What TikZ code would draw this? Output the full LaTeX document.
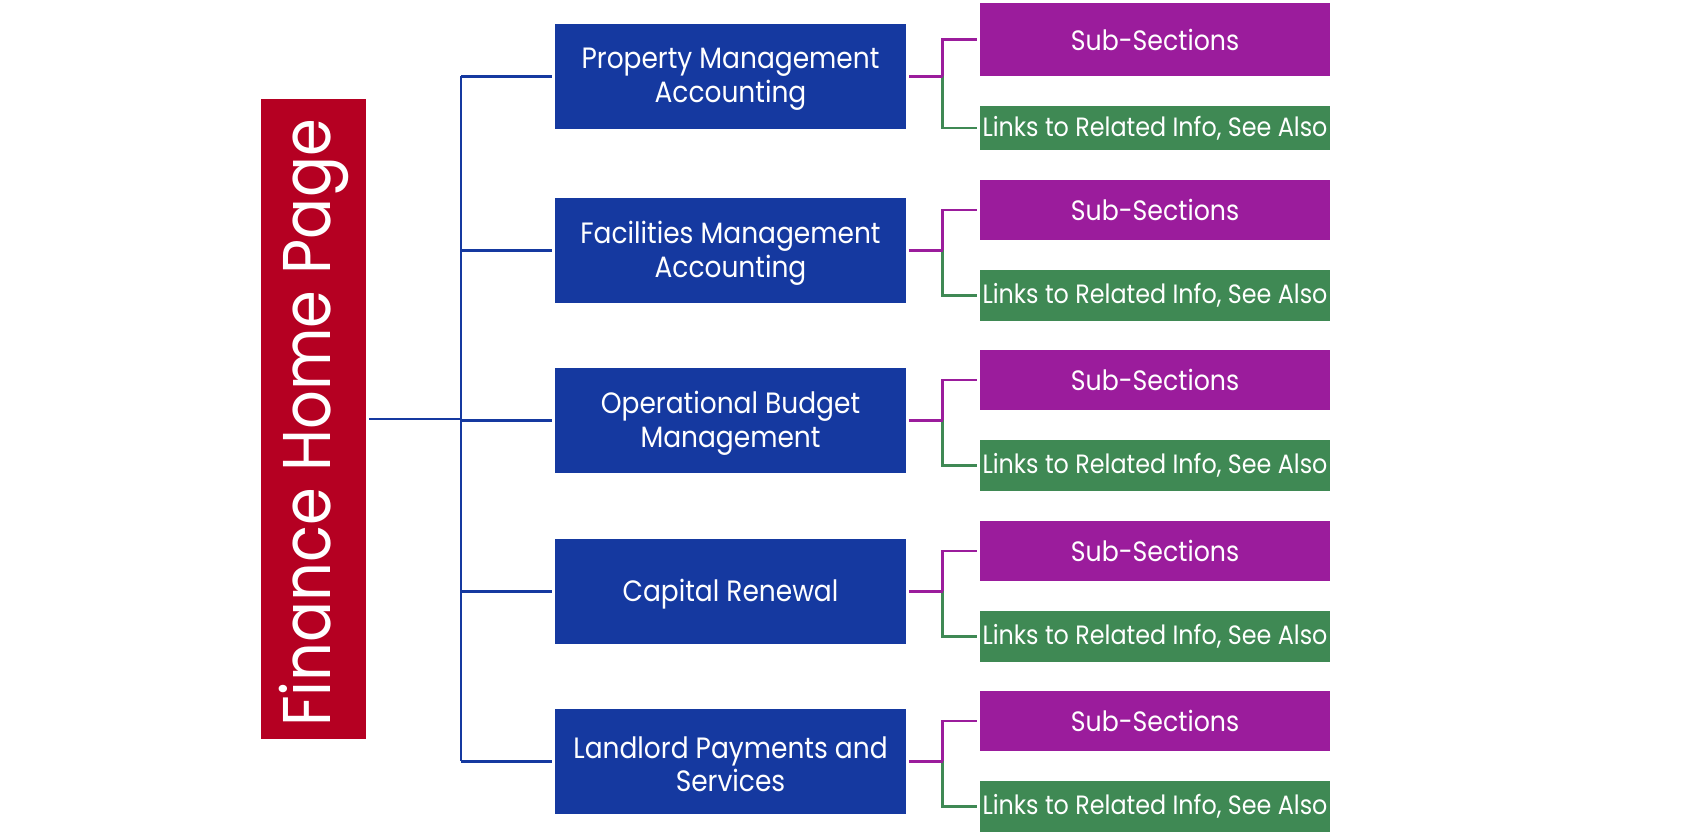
\documentclass[tikz,border=0pt]{standalone}
\usepackage{fontspec}
\setmainfont{Poppins}[FakeStretch=0.9]
\definecolor{rootred}{RGB}{181,0,34}
\definecolor{secblue}{RGB}{21,57,160}
\definecolor{subpurple}{RGB}{155,28,156}
\definecolor{linkgreen}{RGB}{63,137,84}
\tikzset{
  rootbox/.style={fill=rootred, text=white, minimum width=105pt, minimum height=640pt, inner sep=0pt, font=\fontsize{67.5}{70}\selectfont},
  secbox/.style={fill=secblue, minimum width=351pt, minimum height=104.5pt, inner sep=0pt},
  sectext/.style={text=white, align=center, inner sep=0pt, yshift=-3pt, font=\fontsize{29.4}{33.4}\selectfont},
  subbox/.style={fill=subpurple, text=white, minimum width=350pt, minimum height=59.5pt, inner sep=0pt, font=\fontsize{28}{30}\selectfont},
  linkbox/.style={fill=linkgreen, text=white, minimum width=350pt, minimum height=50.7pt, inner sep=0pt, font=\fontsize{26.5}{28}\selectfont},
  bline/.style={draw=secblue, line width=2.5pt},
  pline/.style={draw=subpurple, line width=2.5pt},
  gline/.style={draw=linkgreen, line width=2.5pt},
}
\begin{document}
\begin{tikzpicture}[x=1pt, y=-1pt]
\useasboundingbox (0,0) rectangle (1706,837);
\node[rootbox] (root) at (313.5,419) {\rotatebox{90}{Finance Home Page\hspace*{8pt}}};
\node[secbox, label={[sectext]center:Property Management\\Accounting}] (b1) at (730.5,76.3) {};
\node[secbox, label={[sectext]center:Facilities Management\\Accounting}] (b2) at (730.5,250.3) {};
\node[secbox, label={[sectext]center:Operational Budget\\Management}] (b3) at (730.5,420.3) {};
\node[secbox, label={[sectext]center:Capital Renewal}] (b4) at (730.5,591.3) {};
\node[secbox, label={[sectext]center:Landlord Payments and\\Services}] (b5) at (730.5,761.3) {};
\node[subbox, minimum height=73pt] (p1) at (1155,39.5) {Sub-Sections};
\node[subbox] (p2) at (1155,210) {Sub-Sections};
\node[subbox] (p3) at (1155,380) {Sub-Sections};
\node[subbox] (p4) at (1155,551) {Sub-Sections};
\node[subbox] (p5) at (1155,721) {Sub-Sections};
\node[linkbox, minimum height=44pt] (g1) at (1155,128) {Links to Related Info, See Also};
\node[linkbox] (g2) at (1155,295.3) {Links to Related Info, See Also};
\node[linkbox] (g3) at (1155,465.3) {Links to Related Info, See Also};
\node[linkbox] (g4) at (1155,636.3) {Links to Related Info, See Also};
\node[linkbox] (g5) at (1155,806.3) {Links to Related Info, See Also};
\coordinate (bus) at (461,0);
\coordinate (sbus) at (942.5,0);
\draw[bline, shorten <=3pt] (root.east) -- (root.east -| bus);
\draw[bline] (bus |- b1) -- (bus |- b5);
\foreach \i in {1,...,5} {
  \draw[bline, shorten >=3pt] (bus |- b\i) -- (b\i.west);
  \draw[gline, shorten >=3pt] (b\i.east -| sbus) |- (g\i.west);
  \draw[pline, shorten >=3pt] (b\i.east -| sbus) |- (p\i.west);
  \draw[pline, shorten <=3pt] (b\i.east) -- (b\i.east -| sbus);
}
\end{tikzpicture}
\end{document}
